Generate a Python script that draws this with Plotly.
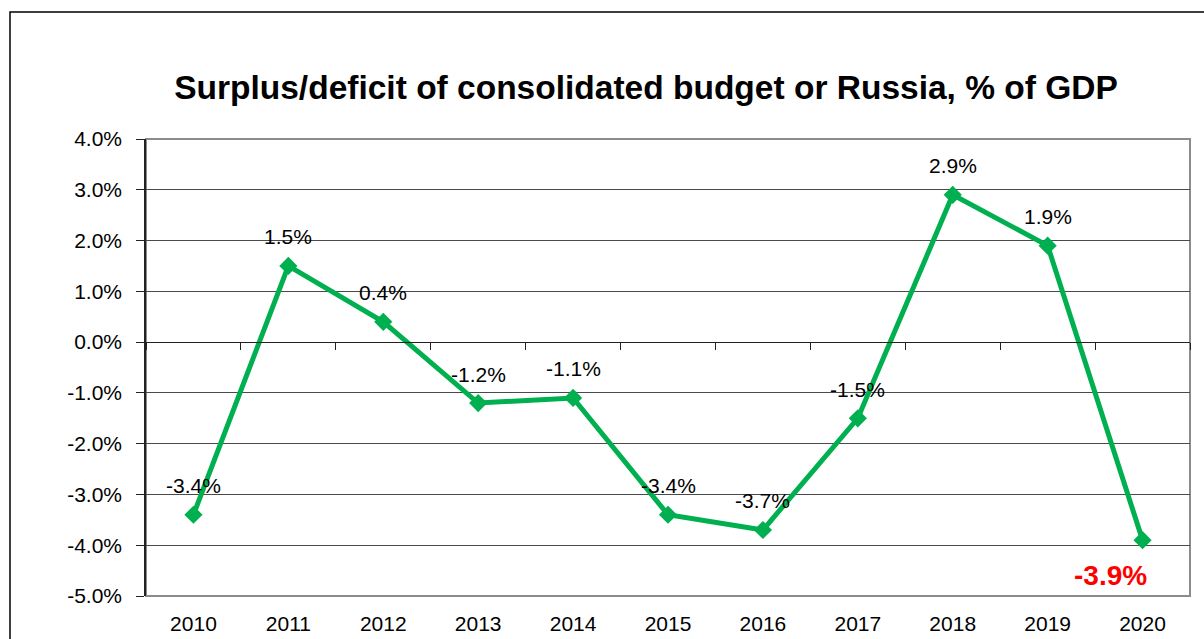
import plotly.graph_objects as go

# Consolidated budget balance of Russia, % of GDP
years = [2010, 2011, 2012, 2013, 2014, 2015, 2016, 2017, 2018, 2019, 2020]
balance = [-3.4, 1.5, 0.4, -1.2, -1.1, -3.4, -3.7, -1.5, 2.9, 1.9, -3.9]
y_ticks = [4, 3, 2, 1, 0, -1, -2, -3, -4, -5]

title_text = "Surplus/deficit of consolidated budget or Russia, % of GDP"
GREEN = "#00B050"
FONT = "Liberation Sans, Arial, sans-serif"

fig = go.Figure()

fig.add_trace(go.Scatter(
    x=years, y=balance,
    mode="lines+markers",
    line=dict(color=GREEN, width=5),
    marker=dict(symbol="diamond", size=14, color=GREEN),
    hoverinfo="x+y",
    showlegend=False,
))

# helper trace that carries the zero-line axis with boundary tick marks
fig.add_trace(go.Scatter(
    x=[years[0], years[-1]], y=[0, 0],
    xaxis="x2", mode="lines",
    line=dict(width=0, color="rgba(0,0,0,0)"),
    hoverinfo="skip", showlegend=False,
))

# value labels above each point (last value gets its own highlighted label)
for yr, v in zip(years[:-1], balance[:-1]):
    fig.add_annotation(
        x=yr, y=v, text=f"{v:.1f}%", showarrow=False,
        yshift=29, font=dict(family=FONT, size=21, color="#000000"),
    )
fig.add_annotation(
    x=years[-1], y=balance[-1], text=f"<b>{balance[-1]:.1f}%</b>",
    showarrow=False, xshift=-32, yshift=-35,
    font=dict(family=FONT, size=28, color="#FF0000"),
)

y_min, y_max = min(y_ticks), max(y_ticks)
fig.update_layout(
    width=1204, height=639,
    margin=dict(l=146, r=14, t=139, b=43, autoexpand=False),
    paper_bgcolor="white", plot_bgcolor="white",
    font=dict(family=FONT, size=21, color="#000000"),
    title=dict(
        text=f"<b>{title_text}</b>",
        x=(646 - 146) / 1044, xanchor="center", xref="paper",
        y=1 - 87 / 639, yanchor="middle", yref="container",
        font=dict(family=FONT, size=33.5, color="#000000"),
    ),
    xaxis=dict(
        range=[years[0] - 0.5, years[-1] + 0.5],
        tickmode="array", tickvals=years, ticktext=[str(y) for y in years],
        ticks="outside", ticklen=9, tickcolor="rgba(0,0,0,0)",
        showgrid=False, zeroline=False, showline=False,
        tickfont=dict(family=FONT, size=21, color="#000000"),
        automargin=False, fixedrange=True,
    ),
    xaxis2=dict(
        overlaying="x", anchor="free",
        position=(0 - y_min) / (y_max - y_min),
        side="bottom",
        range=[years[0] - 0.5, years[-1] + 0.5],
        tick0=years[0] - 0.5, dtick=1, tickmode="linear",
        ticks="outside", ticklen=7, tickwidth=1.2, tickcolor="#222222",
        showticklabels=False, showgrid=False, zeroline=False,
        showline=True, linecolor="#222222", linewidth=1.2,
        automargin=False,
    ),
    yaxis=dict(
        range=[y_min, y_max],
        tickmode="array", tickvals=y_ticks,
        ticktext=[f"{t:.1f}%" for t in y_ticks],
        ticks="outside", ticklen=8, tickwidth=1.2, tickcolor="#222222",
        showgrid=True, gridcolor="#4a4a4a", gridwidth=1,
        zeroline=False,
        showline=True, linecolor="#222222", linewidth=1.5,
        tickfont=dict(family=FONT, size=21, color="#000000"),
        ticklabelstandoff=10,
        automargin=False, fixedrange=True,
    ),
    shapes=[
        # plot-area frame
        dict(type="rect", xref="paper", yref="paper", x0=0, x1=1, y0=0, y1=1,
             line=dict(color="#8C8C8C", width=2), layer="below"),
        # outer chart frame
        dict(type="rect", xref="paper", yref="paper",
             x0=-136 / 1044, x1=1.2, y0=-0.3, y1=(596 - 12) / 457,
             line=dict(color="#000000", width=1.5), layer="below"),
    ],
)

fig.write_html("out.html")
